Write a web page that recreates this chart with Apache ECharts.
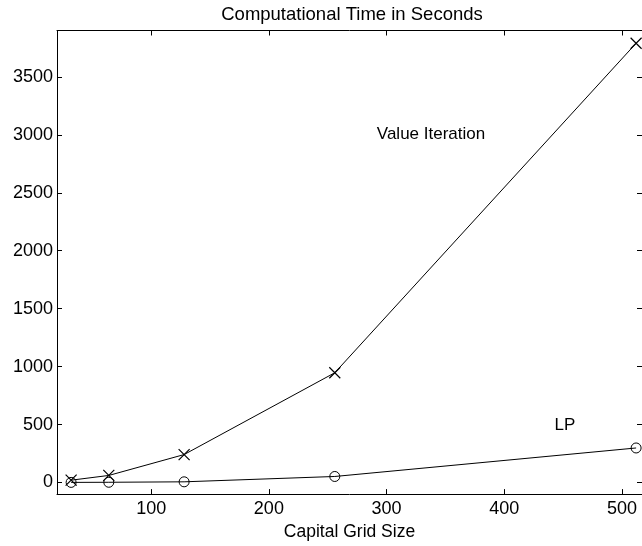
<!DOCTYPE html>
<html>
<head>
<meta charset="utf-8">
<script src="https://cdn.jsdelivr.net/npm/echarts@6/dist/echarts.min.js"></script>
<style>html,body{margin:0;padding:0;background:#fff;}#c{width:642px;height:546px;}</style>
</head>
<body>
<div id="c"></div>
<script>
const gridSizes = [32, 64, 128, 256, 512];
const valueIteration = [20, 61, 241, 947, 3790];
const lpTimes = [1, 2, 6, 52, 298];
const xTicks = [100, 200, 300, 400, 500];
const yTicks = [0, 500, 1000, 1500, 2000, 2500, 3000, 3500];
const titleText = 'Computational Time in Seconds';
const xName = 'Capital Grid Size';
const viLabel = 'Value Iteration';
const lpLabel = 'LP';

const FONT = 'Liberation Sans, Arial, Helvetica, sans-serif';
const chart = echarts.init(document.getElementById('c'), null, {renderer: 'canvas'});
const axisLineStyle = {color: '#000', width: 1};
const tickStyle = {color: '#000', width: 1};
const plain = v => String(v);

chart.setOption({
  animation: false,
  backgroundColor: '#fff',
  title: {
    text: titleText, left: 347, top: 0, textAlign: 'center',
    textStyle: {fontFamily: FONT, fontSize: 18.5, fontWeight: 'normal', color: '#000'}
  },
  grid: {left: 57, right: -2, top: 30.5, bottom: 49.5, containLabel: false},
  xAxis: [{
    type: 'value', min: 20, max: 517, position: 'bottom',
    name: xName, nameLocation: 'middle', nameGap: 22,
    nameTextStyle: {fontFamily: FONT, fontSize: 17.5, color: '#000', verticalAlign: 'top'},
    axisLine: {show: true, onZero: false, lineStyle: axisLineStyle},
    axisTick: {show: true, inside: true, length: 5, lineStyle: tickStyle, customValues: xTicks},
    axisLabel: {fontFamily: FONT, fontSize: 18, color: '#000', margin: 6, customValues: xTicks, formatter: plain},
    splitLine: {show: false}
  }, {
    type: 'value', min: 20, max: 517, position: 'top',
    axisLine: {show: true, onZero: false, lineStyle: axisLineStyle},
    axisTick: {show: true, inside: true, length: 5, lineStyle: tickStyle, customValues: xTicks},
    axisLabel: {show: false},
    splitLine: {show: false}
  }],
  yAxis: [{
    type: 'value', min: -100, max: 3900, position: 'left',
    axisLine: {show: true, onZero: false, lineStyle: axisLineStyle},
    axisTick: {show: true, inside: true, length: 5, lineStyle: tickStyle, customValues: yTicks},
    axisLabel: {fontFamily: FONT, fontSize: 18, color: '#000', margin: 4, customValues: yTicks, formatter: plain},
    splitLine: {show: false}
  }, {
    type: 'value', min: -100, max: 3900, position: 'right',
    axisLine: {show: true, onZero: false, lineStyle: axisLineStyle},
    axisTick: {show: true, inside: true, length: 5, lineStyle: tickStyle, customValues: yTicks},
    axisLabel: {show: false},
    splitLine: {show: false}
  }],
  series: [{
    name: viLabel, type: 'line', xAxisIndex: 0, yAxisIndex: 0,
    data: gridSizes.map((x, i) => [x, valueIteration[i]]),
    symbol: 'path://M0,0L10,10M10,0L0,10', symbolSize: 11,
    itemStyle: {color: 'none', borderColor: '#000', borderWidth: 1.2},
    lineStyle: {color: '#000', width: 1}
  }, {
    name: lpLabel, type: 'line', xAxisIndex: 0, yAxisIndex: 0,
    data: gridSizes.map((x, i) => [x, lpTimes[i]]),
    symbol: 'circle', symbolSize: 10,
    itemStyle: {color: 'none', borderColor: '#000', borderWidth: 1},
    lineStyle: {color: '#000', width: 1}
  }],
  graphic: [{
    type: 'text', x: 431, y: 134,
    style: {text: viLabel, fontFamily: FONT, fontSize: 17, fill: '#000', align: 'center', verticalAlign: 'middle'}
  }, {
    type: 'text', x: 565, y: 425,
    style: {text: lpLabel, fontFamily: FONT, fontSize: 17, fill: '#000', align: 'center', verticalAlign: 'middle'}
  }]
});
</script>
</body>
</html>
